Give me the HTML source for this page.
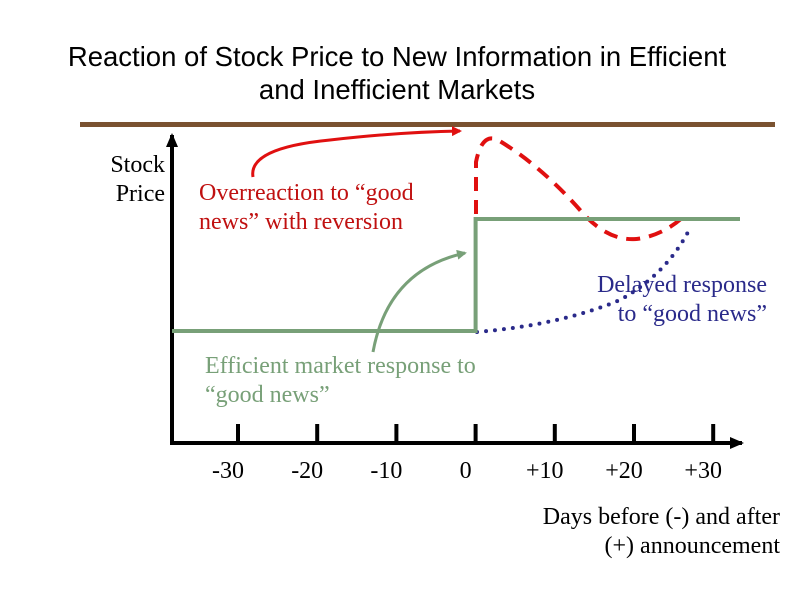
<!DOCTYPE html>
<html><head><meta charset="utf-8"><style>
body{margin:0;background:#fff;}
svg{display:block;}
.t{font-family:"Liberation Sans",sans-serif;font-size:27.5px;fill:#000;}
.s{font-family:"Liberation Serif",serif;font-size:24px;}
</style></head><body>
<svg width="794" height="595">
<defs>
<marker id="ar" markerWidth="10" markerHeight="10" refX="8" refY="5" orient="auto" markerUnits="userSpaceOnUse"><path d="M0,0 L10,5 L0,10 z" fill="#e01010"/></marker>
<marker id="ag" markerWidth="10" markerHeight="10" refX="8" refY="5" orient="auto" markerUnits="userSpaceOnUse"><path d="M0,0 L10,5 L0,10 z" fill="#78a078"/></marker>
<marker id="ak" markerWidth="14" markerHeight="12" refX="12" refY="6" orient="auto" markerUnits="userSpaceOnUse"><path d="M0,0 L14,6 L0,12 z" fill="#000"/></marker>
</defs>
<text class="t" x="397" y="66" text-anchor="middle">Reaction of Stock Price to New Information in Efficient</text>
<text class="t" x="397" y="99" text-anchor="middle">and Inefficient Markets</text>
<rect x="80" y="122" width="695" height="5" fill="#7a5230"/>
<text class="s" x="165" y="172" text-anchor="end">Stock</text>
<text class="s" x="165" y="201" text-anchor="end">Price</text>
<g id="axes"></g>
<path d="M476,214 L476,162 Q482,132 498,140 Q540,165 580,210 Q610,245 643,238 Q665,233 682,218" fill="none" stroke="#e01010" stroke-width="4" stroke-dasharray="14,9"/>
<path d="M477,332 Q560,325 620,300 Q665,275 688,232" fill="none" stroke="#2a2a8a" stroke-width="4" stroke-dasharray="0,9" stroke-linecap="round"/>
<g id="green"></g>
<path d="M253,177 Q248,148 330,140 Q400,132 460,131" fill="none" stroke="#e01010" stroke-width="3" marker-end="url(#ar)"/>
<path d="M373,352 Q388,270 465,253" fill="none" stroke="#78a078" stroke-width="3" marker-end="url(#ag)"/>
<text class="s" x="199" y="200" fill="#c01010">Overreaction to “good</text>
<text class="s" x="199" y="229" fill="#c01010">news” with reversion</text>
<text class="s" x="767" y="292" fill="#2a2a8a" text-anchor="end">Delayed response</text>
<text class="s" x="767" y="321" fill="#2a2a8a" text-anchor="end">to “good news”</text>
<text class="s" x="205" y="373" fill="#78a078">Efficient market response to</text>
<text class="s" x="205" y="402" fill="#78a078">“good news”</text>
<text class="s" x="780" y="524" text-anchor="end">Days before (-) and after</text>
<text class="s" x="780" y="553" text-anchor="end">(+) announcement</text>
</svg>
<script>
const tickLabels=["-30","-20","-10","0","+10","+20","+30"];
const tickDays=[-30,-20,-10,0,10,20,30];
const preLevel=0, postLevel=1;
const NS="http://www.w3.org/2000/svg";
function xs(d){return 238+(d+30)*7.92;}
function ys(v){return 331-v*112;}
function mk(t,a,p){const e=document.createElementNS(NS,t);for(const k in a)e.setAttribute(k,a[k]);p.appendChild(e);return e;}
const ax=document.getElementById('axes');
let e=mk('line',{x1:172,y1:443,x2:742,y2:443,stroke:'#000','stroke-width':4,'marker-end':'url(#ak)'},ax);


e=mk('line',{x1:172,y1:445,x2:172,y2:135,stroke:'#000','stroke-width':4,'marker-end':'url(#ak)'},ax);


tickDays.forEach((d,i)=>{
 const t=mk('line',{x1:xs(d),y1:424,x2:xs(d),y2:443,stroke:'#000','stroke-width':4},ax);
 
 
 const tx=mk('text',{x:xs(d)-10,y:478,'text-anchor':'middle','class':'s'},ax);
 tx.textContent=tickLabels[i];
 
 
});
const g=document.getElementById('green');
const p=mk('path',{d:`M172,${ys(preLevel)} L${xs(0)},${ys(preLevel)} L${xs(0)},${ys(postLevel)} L740,${ys(postLevel)}`,fill:'none',stroke:'#78a078','stroke-width':4},g);


</script>
</body></html>
